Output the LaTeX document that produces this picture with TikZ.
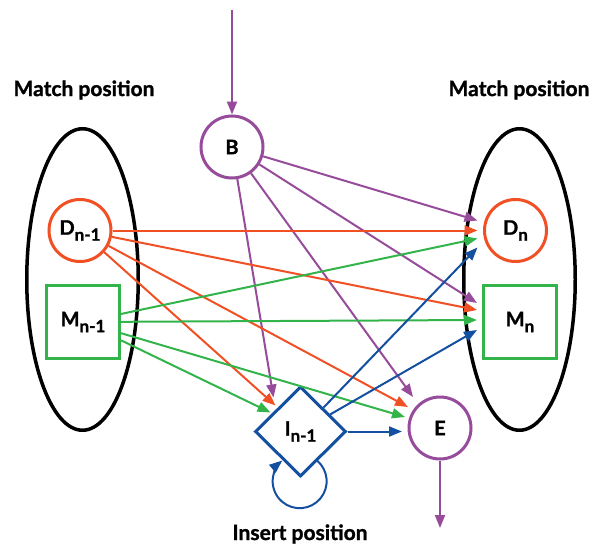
\documentclass[tikz,border=0pt]{standalone}
\usepackage{fontspec}
\setmainfont{Lato}[BoldFeatures={FakeBold=1.2}]
\usetikzlibrary{shapes.geometric,arrows.meta,calc}
\definecolor{cred}{HTML}{F05023}
\definecolor{cgreen}{HTML}{32B44B}
\definecolor{cpur}{HTML}{964B9B}
\definecolor{cblue}{HTML}{1450A0}
\newcommand\lab[2]{#1\raisebox{-0.3em}{\fontsize{17}{17}\selectfont #2}}
\begin{document}
\begin{tikzpicture}[x=1pt,y=-1pt,
  every node/.style={font=\fontsize{20}{20}\selectfont\bfseries},
  circ/.style={circle,line width=3pt,minimum size=62pt,inner sep=0pt,draw},
  sq/.style={rectangle,line width=3pt,minimum size=73pt,inner sep=0pt,draw=cgreen},
  dia/.style={diamond,line width=3pt,minimum width=91pt,minimum height=90pt,inner sep=0pt,draw=cblue},
  title/.style={font=\fontsize{21}{21}\selectfont\bfseries},
  edge/.style={line width=2pt,-{Triangle[length=13pt,width=10pt]}},
  pe/.style={edge,cpur},
  re/.style={edge,cred},
  ge/.style={edge,cgreen},
  be/.style={edge,cblue},
  oval/.style={line width=3.5pt,draw=black}]
\useasboundingbox (0,0) rectangle (598,546);
% ellipses
\draw[oval] (82.5,279.5) ellipse [x radius=55.75, y radius=150.75];
\draw[oval] (519.5,279.5) ellipse [x radius=55.75, y radius=150.75];
% titles
\node[title] (t1) at (84,90) {Match position};
\node[title] (t2) at (519,90) {Match position};
\node[title,anchor=base] (t3) at (300,540) {Insert position};
% nodes
\node[circ,draw=cpur] (B) at (232,147) {B};
\node[circ,draw=cred] (D1) at (80,230.5) {\lab{D}{n-1}};
\node[circ,draw=cred] (Dn) at (515.5,230.5) {\lab{D}{n}};
\node[sq] (M1) at (83,322) {\lab{M}{n-1}};
\node[sq] (Mn) at (520,322) {\lab{M}{n}};
\node[dia] (I) at (300.5,431.5) {\lab{I}{n-1}};
\node[circ,draw=cpur] (E) at (440,428) {E};
\coordinate (top) at (232,10);
\coordinate (bot) at (440,528);
% begin / end
\draw[pe] (top) -- (B);
\draw[pe] (E) -- (bot);
% from B
\draw[pe] (B) -- ($(Dn)+(-38,-10)$);
\draw[pe] (B) -- ($(Mn)+(-43,-19)$);
\draw[pe] (B) -- ($(I)+(-27,-34)$);
\draw[pe] (B) -- ($(E)+(-27,-31)$);
% from D_{n-1}
\draw[re] (D1) -- ($(Dn)+(-38,0)$);
\draw[re] (D1) -- ($(Mn)+(-43,-12)$);
\draw[re] (D1) -- ($(I)+(-25,-26)$);
\draw[re] (D1) -- ($(E)+(-32,-21)$);
% from M_{n-1}
\draw[ge] (M1) -- ($(Dn)+(-38,8)$);
\draw[ge] (M1) -- ($(Mn)+(-43,-2)$);
\draw[ge] (M1) -- ($(I)+(-30,-19)$);
\draw[ge] (M1) -- ($(E)+(-35,-11)$);
% from I
\draw[be] (I) -- ($(Dn)+(-38,17)$);
\draw[be] (I) -- ($(Mn)+(-43,8)$);
\draw[be] (I) -- ($(E)+(-38,3.5)$);
\draw[be] ($(I.center)+(16.5,29)$) arc[start angle=-50,end angle=230,radius=27];
\end{tikzpicture}
\end{document}
